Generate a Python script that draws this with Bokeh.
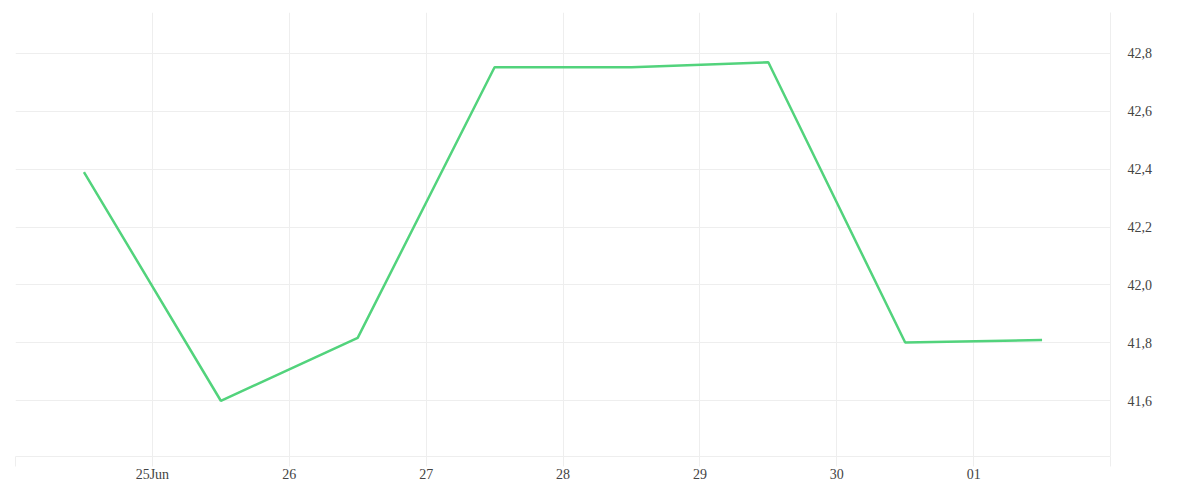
import pandas as pd
from bokeh.plotting import figure
from bokeh.models import FixedTicker, Range1d
from bokeh.embed import file_html
from bokeh.resources import INLINE

# ---- data ----
dates = ["2024-06-24 12:00", "2024-06-25 12:00", "2024-06-26 12:00", "2024-06-27 12:00",
         "2024-06-28 12:00", "2024-06-29 12:00", "2024-06-30 12:00", "2024-07-01 12:00"]
values = [42.39, 41.60, 41.817, 42.752, 42.752, 42.769, 41.801, 41.81]

tick_days = ["2024-06-24", "2024-06-25", "2024-06-26", "2024-06-27", "2024-06-28",
             "2024-06-29", "2024-06-30", "2024-07-01", "2024-07-02"]
tick_labels = ["", "25Jun", "26", "27", "28", "29", "30", "01", ""]

y_ticks = [41.6, 41.8, 42.0, 42.2, 42.4, 42.6, 42.8]
y_labels = ["41,6", "41,8", "42,0", "42,2", "42,4", "42,6", "42,8"]

x_start, x_end = "2024-06-24", "2024-07-02"
y_start, y_end = 41.4075, 42.941

# ---- helpers ----
EPOCH = pd.Timestamp("1970-01-01")


def to_ms(s):
    return float((pd.Timestamp(s) - EPOCH) // pd.Timedelta("1ms"))


x = pd.to_datetime(dates)
x_tick_ms = [to_ms(d) for d in tick_days]

GRID = "#eeeeee"
TEXT = "#444444"
FONT = "Liberation Serif"

p = figure(
    width=1184, height=484,
    x_axis_type="datetime",
    x_axis_location="below", y_axis_location="right",
    x_range=Range1d(pd.Timestamp(x_start), pd.Timestamp(x_end)),
    y_range=Range1d(y_start, y_end),
    output_backend="svg", toolbar_location=None,
    min_border_left=15, min_border_top=12, min_border_right=74, min_border_bottom=26,
)
p.outline_line_color = None
p.background_fill_color = "white"
p.border_fill_color = "white"

p.line(x, values, line_color="#52d37c", line_width=2.5)

# x axis
xax = p.xaxis[0]
xax.ticker = FixedTicker(ticks=x_tick_ms)
xax.major_label_overrides = {t: l for t, l in zip(x_tick_ms, tick_labels)}
xax.axis_line_color = GRID
xax.major_tick_line_color = GRID
xax.major_tick_out = 10
xax.major_tick_in = 0
xax.minor_tick_line_color = None
xax.major_label_standoff = 0
xax.major_label_text_font = FONT
xax.major_label_text_font_size = "14px"
xax.major_label_text_color = TEXT

# y axis
yax = p.yaxis[0]
yax.ticker = FixedTicker(ticks=y_ticks)
yax.major_label_overrides = {t: l for t, l in zip(y_ticks, y_labels)}
yax.axis_line_color = GRID
yax.major_tick_line_color = None
yax.major_tick_out = 0
yax.major_tick_in = 0
yax.minor_tick_line_color = None
yax.major_label_standoff = 17
yax.major_label_text_font = FONT
yax.major_label_text_font_size = "14px"
yax.major_label_text_color = TEXT

p.xgrid.grid_line_color = GRID
p.ygrid.grid_line_color = GRID
p.xgrid.grid_line_width = 1
p.ygrid.grid_line_width = 1

open("out.html", "w").write(file_html(p, INLINE))
